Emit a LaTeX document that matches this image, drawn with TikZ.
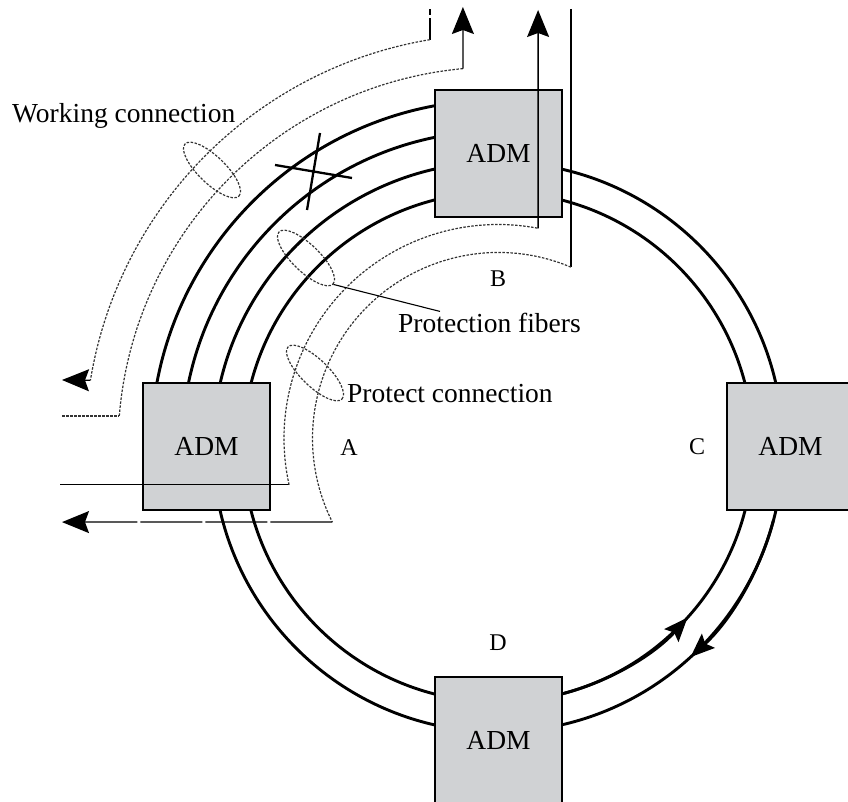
\documentclass[tikz,border=0pt]{standalone}
\usepackage{fontspec}
\setmainfont{Liberation Serif}
\usetikzlibrary{arrows.meta,shapes.geometric,calc}
\definecolor{admgray}{RGB}{208,210,212}
\begin{document}
\begin{tikzpicture}[x=1pt,y=1pt,
  fiber/.style={line width=2.9pt},
  thinln/.style={line width=1.3pt},
  fdash/.style={line width=1.2pt, dash pattern=on 2.5pt off 1.5pt, draw=black!80},
  ldash/.style={line width=1.3pt, dash pattern=on 62pt off 3pt},
  vdash/.style={line width=1.3pt, dash pattern=on 22pt off 3pt},
  tip/.style={-{Stealth[length=27pt,width=22pt,inset=4pt]}},
  ringtip/.style={-{Stealth[length=24pt,width=19pt,inset=4pt]}},
  adm/.style={draw, line width=1.3pt, fill=admgray, minimum size=127pt, inner sep=0pt, font=\fontsize{27.5}{30}\selectfont},
  lbl/.style={font=\fontsize{24}{27}\selectfont, inner sep=0pt},
  txt/.style={font=\fontsize{27.5}{30}\selectfont, inner sep=0pt, anchor=base west},
  ell/.style={ellipse, fdash, minimum width=75pt, minimum height=27pt, inner sep=0pt, rotate=-44}
]
\useasboundingbox (0,0) rectangle (848,802);
\coordinate (O) at (498,355);
\coordinate (P1) at (498,363.5);
\coordinate (P2) at (498.5,363.5);

% fibers
\draw[fiber] (O) circle[radius=255];
\draw[fiber] (O) circle[radius=285];
\draw[fiber] (O) ++(90:316) arc[start angle=90,end angle=180,radius=316];
\draw[fiber] (O) ++(90:347) arc[start angle=90,end angle=180,radius=347];
\draw[fiber, ringtip] (O) ++(-75:255) arc[start angle=-75,end angle=-42,radius=255];
\draw[fiber, ringtip] (O) ++(-15:285) arc[start angle=-15,end angle=-47.5,radius=285];

% cut mark
\draw[line width=2.3pt] (275,637) -- (352,624);
\draw[line width=2.3pt] (320,669) -- (307,592);

% ADM nodes
\node[adm] (A) at (206.5,355.5) {ADM};
\node[adm] (B) at (498.5,648.5) {ADM};
\node[adm] (C) at (790.5,355.5) {ADM};
\node[adm] (D) at (498.5,61.5) {ADM};

% working connection, outer
\coordinate (w1a) at (430,793);
\coordinate (w1b) at (430,762.3);
\draw[vdash] (w1b) -- (w1a);
\draw[fdash] (O) ++(99.5:413) arc[start angle=99.5,end angle=170.7,radius=413] coordinate (w1c);
\coordinate (w1d) at (62,422);
\draw[thinln, tip] (w1c) -- (w1d);

% working connection, inner
\coordinate (w2a) at (62,386);
\coordinate (w2b) at (119.3,386);
\draw[fdash] (w2a) -- (w2b);
\draw[fdash] (O) ++(175.3:380) arc[start angle=175.3,end angle=95.3,radius=380] coordinate (w2e);
\coordinate (w2f) at (462.9,795);
\draw[thinln, tip] (w2e) -- (w2f);

% protect connection, one way
\coordinate (p1a) at (60,317.2);
\coordinate (p1b) at (289.1,317.2);
\draw[thinln] (p1a) -- (p1b);
\draw[fdash] (P1) ++(192.5:214) arc[start angle=192.5,end angle=79.2,radius=214] coordinate (p1e);
\coordinate (p1f) at (538.1,792);
\draw[thinln, tip] (p1e) -- (p1f);

% protect connection, other way
\coordinate (p2a) at (570.9,793);
\coordinate (p2b) at (570.9,534.8);
\draw[thinln] (p2a) -- (p2b);
\draw[fdash] (P2) ++(67.1:186) arc[start angle=67.1,end angle=206.7,radius=186] coordinate (p2e);
\coordinate (p2f) at (62,279.9);
\draw[ldash, tip] (p2e) -- (p2f);

% ellipses
\node[ell] (we) at (212,632) {};
\node[ell] (pf) at (306,544) {};
\node[ell] (pc) at (315,429) {};

% texts
\node[txt] (tw) at (12,679) {Working connection};
\node[txt] (tpf) at (398,469) {Protection fibers};
\node[txt] (tpc) at (347,399) {Protect connection};
\draw[line width=1.1pt] (pf.east) -- ($(tpf.north west)+(42,2)$);

\node[lbl] (lA) at (349,354) {A};
\node[lbl] (lB) at (498,523) {B};
\node[lbl] (lC) at (697,355) {C};
\node[lbl] (lD) at (498,159) {D};
\end{tikzpicture}
\end{document}
